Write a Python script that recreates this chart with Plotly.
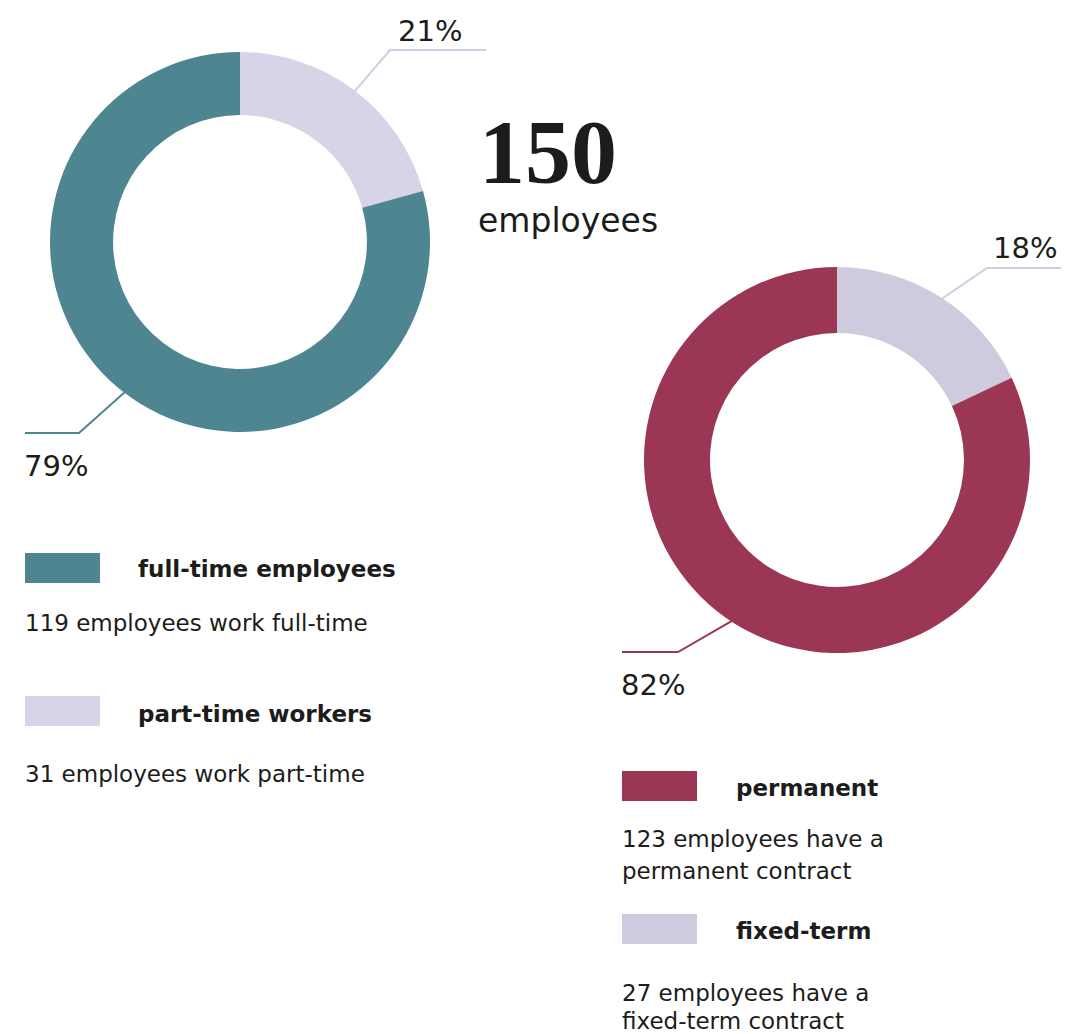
import math
import plotly.graph_objects as go

# page offset (body margin) and figure size
OFF = 8
W, H = 1061, 1026

# ---- data ----
total_employees = 150
emp_labels = ["full-time employees", "part-time workers"]
emp_values = [119, 31]
emp_notes = [["119 employees work full-time"], ["31 employees work part-time"]]
con_labels = ["permanent", "fixed-term"]
con_values = [123, 27]
con_notes = [["123 employees have a", "permanent contract"],
             ["27 employees have a", "fixed-term contract"]]

# ---- styles ----
emp_colors = ["#4d8590", "#d6d4e6"]
con_colors = ["#9b3654", "#cdcbdd"]
BODY = "DejaVu Sans, sans-serif"
TXT = "#1c1c1a"
BODY_SIZE = 23


def px(x, y):
    return (x - OFF) / W, 1 - (y - OFF) / H


def domain(cx, cy, r):
    x0, y1 = px(cx - r, cy - r)
    x1, y0 = px(cx + r, cy + r)
    return dict(x=[x0, x1], y=[y0, y1])


# donut geometry (page pixels)
L = dict(cx=240, cy=242, r=190, hole=0.668)
R = dict(cx=837, cy=460, r=193, hole=0.658)

fig = go.Figure()
for g, labels, values, colors in [(L, emp_labels, emp_values, emp_colors),
                                  (R, con_labels, con_values, con_colors)]:
    fig.add_trace(go.Pie(
        labels=labels[::-1], values=values[::-1], hole=g["hole"],
        marker=dict(colors=colors[::-1], line=dict(width=0)),
        domain=domain(g["cx"], g["cy"], g["r"]),
        sort=False, direction="clockwise", rotation=0,
        textinfo="none", showlegend=False, hoverinfo="label+value+percent",
    ))

shapes = []
annotations = []


def leader(g, values, idx, elbow, end_x, color, label_pos, anchor):
    tot = sum(values)
    frac = values[idx] / tot
    if idx == 1:
        mid = frac / 2 * 360  # clockwise degrees from top
    else:
        other = values[1] / tot
        mid = (other + frac / 2) * 360
    a = math.radians(mid)
    sx = g["cx"] + g["r"] * 0.97 * math.sin(a)
    sy = g["cy"] - g["r"] * 0.97 * math.cos(a)
    pts = [px(sx, sy), px(*elbow), px(end_x, elbow[1])]
    path = "M {} {} L {} {} L {} {}".format(pts[0][0], pts[0][1], pts[1][0], pts[1][1], pts[2][0], pts[2][1])
    shapes.append(dict(type="path", xref="paper", yref="paper", path=path,
                       line=dict(color=color, width=2)))
    pct = round(values[idx] / tot * 100)
    lx, ly = px(*label_pos)
    annotations.append(dict(x=lx, y=ly, xref="paper", yref="paper", text=f"{pct}%",
                            showarrow=False, xanchor=anchor, yanchor="middle",
                            font=dict(family=BODY, size=29, color=TXT)))


leader(L, emp_values, 1, (390, 50), 486, "#d0cee3", (430, 31), "center")
leader(L, emp_values, 0, (79, 433), 25, emp_colors[0], (22, 466), "left")
leader(R, con_values, 1, (987, 268), 1066, "#d0cee3", (1025, 248), "center")
leader(R, con_values, 0, (678, 652), 622, con_colors[0], (619, 685), "left")

# big number
x, y = px(477, 152)
annotations.append(dict(x=x, y=y, xref="paper", yref="paper", text=f"<b>{total_employees}</b>",
                        showarrow=False, xanchor="left", yanchor="middle",
                        font=dict(family="Liberation Serif, serif", size=92, color=TXT)))
x, y = px(476, 220)
annotations.append(dict(x=x, y=y, xref="paper", yref="paper", text="employees",
                        showarrow=False, xanchor="left", yanchor="middle",
                        font=dict(family=BODY, size=33, color=TXT)))


def legend_item(sw_x, sw_y, label, color, note_lines, note_ys, title_x, title_y):
    x0, y1 = px(sw_x, sw_y)
    x1, y0 = px(sw_x + 75, sw_y + 30)
    shapes.append(dict(type="rect", xref="paper", yref="paper", x0=x0, x1=x1, y0=y0, y1=y1,
                       fillcolor=color, line=dict(width=0)))
    tx, ty = px(title_x, title_y)
    annotations.append(dict(x=tx, y=ty, xref="paper", yref="paper", text=f"<b>{label}</b>",
                            showarrow=False, xanchor="left", yanchor="middle",
                            font=dict(family=BODY, size=BODY_SIZE, color=TXT)))
    for line, ly in zip(note_lines, note_ys):
        nx, ny = px(sw_x - 2, ly)
        annotations.append(dict(x=nx, y=ny, xref="paper", yref="paper", text=line,
                                showarrow=False, xanchor="left", yanchor="middle", align="left",
                                font=dict(family=BODY, size=BODY_SIZE, color=TXT)))


legend_item(25, 553, emp_labels[0], emp_colors[0], emp_notes[0], [623], 136, 569)
legend_item(25, 696, emp_labels[1], emp_colors[1], emp_notes[1], [774], 136, 714)
legend_item(622, 771, con_labels[0], con_colors[0], con_notes[0], [839, 871], 734, 788)
legend_item(622, 914, con_labels[1], con_colors[1], con_notes[1], [993, 1021], 734, 931)

fig.update_layout(
    width=W, height=H,
    margin=dict(l=0, r=0, t=0, b=0),
    paper_bgcolor="white", plot_bgcolor="white",
    shapes=shapes, annotations=annotations,
    showlegend=False,
)

fig.write_html("out.html")
